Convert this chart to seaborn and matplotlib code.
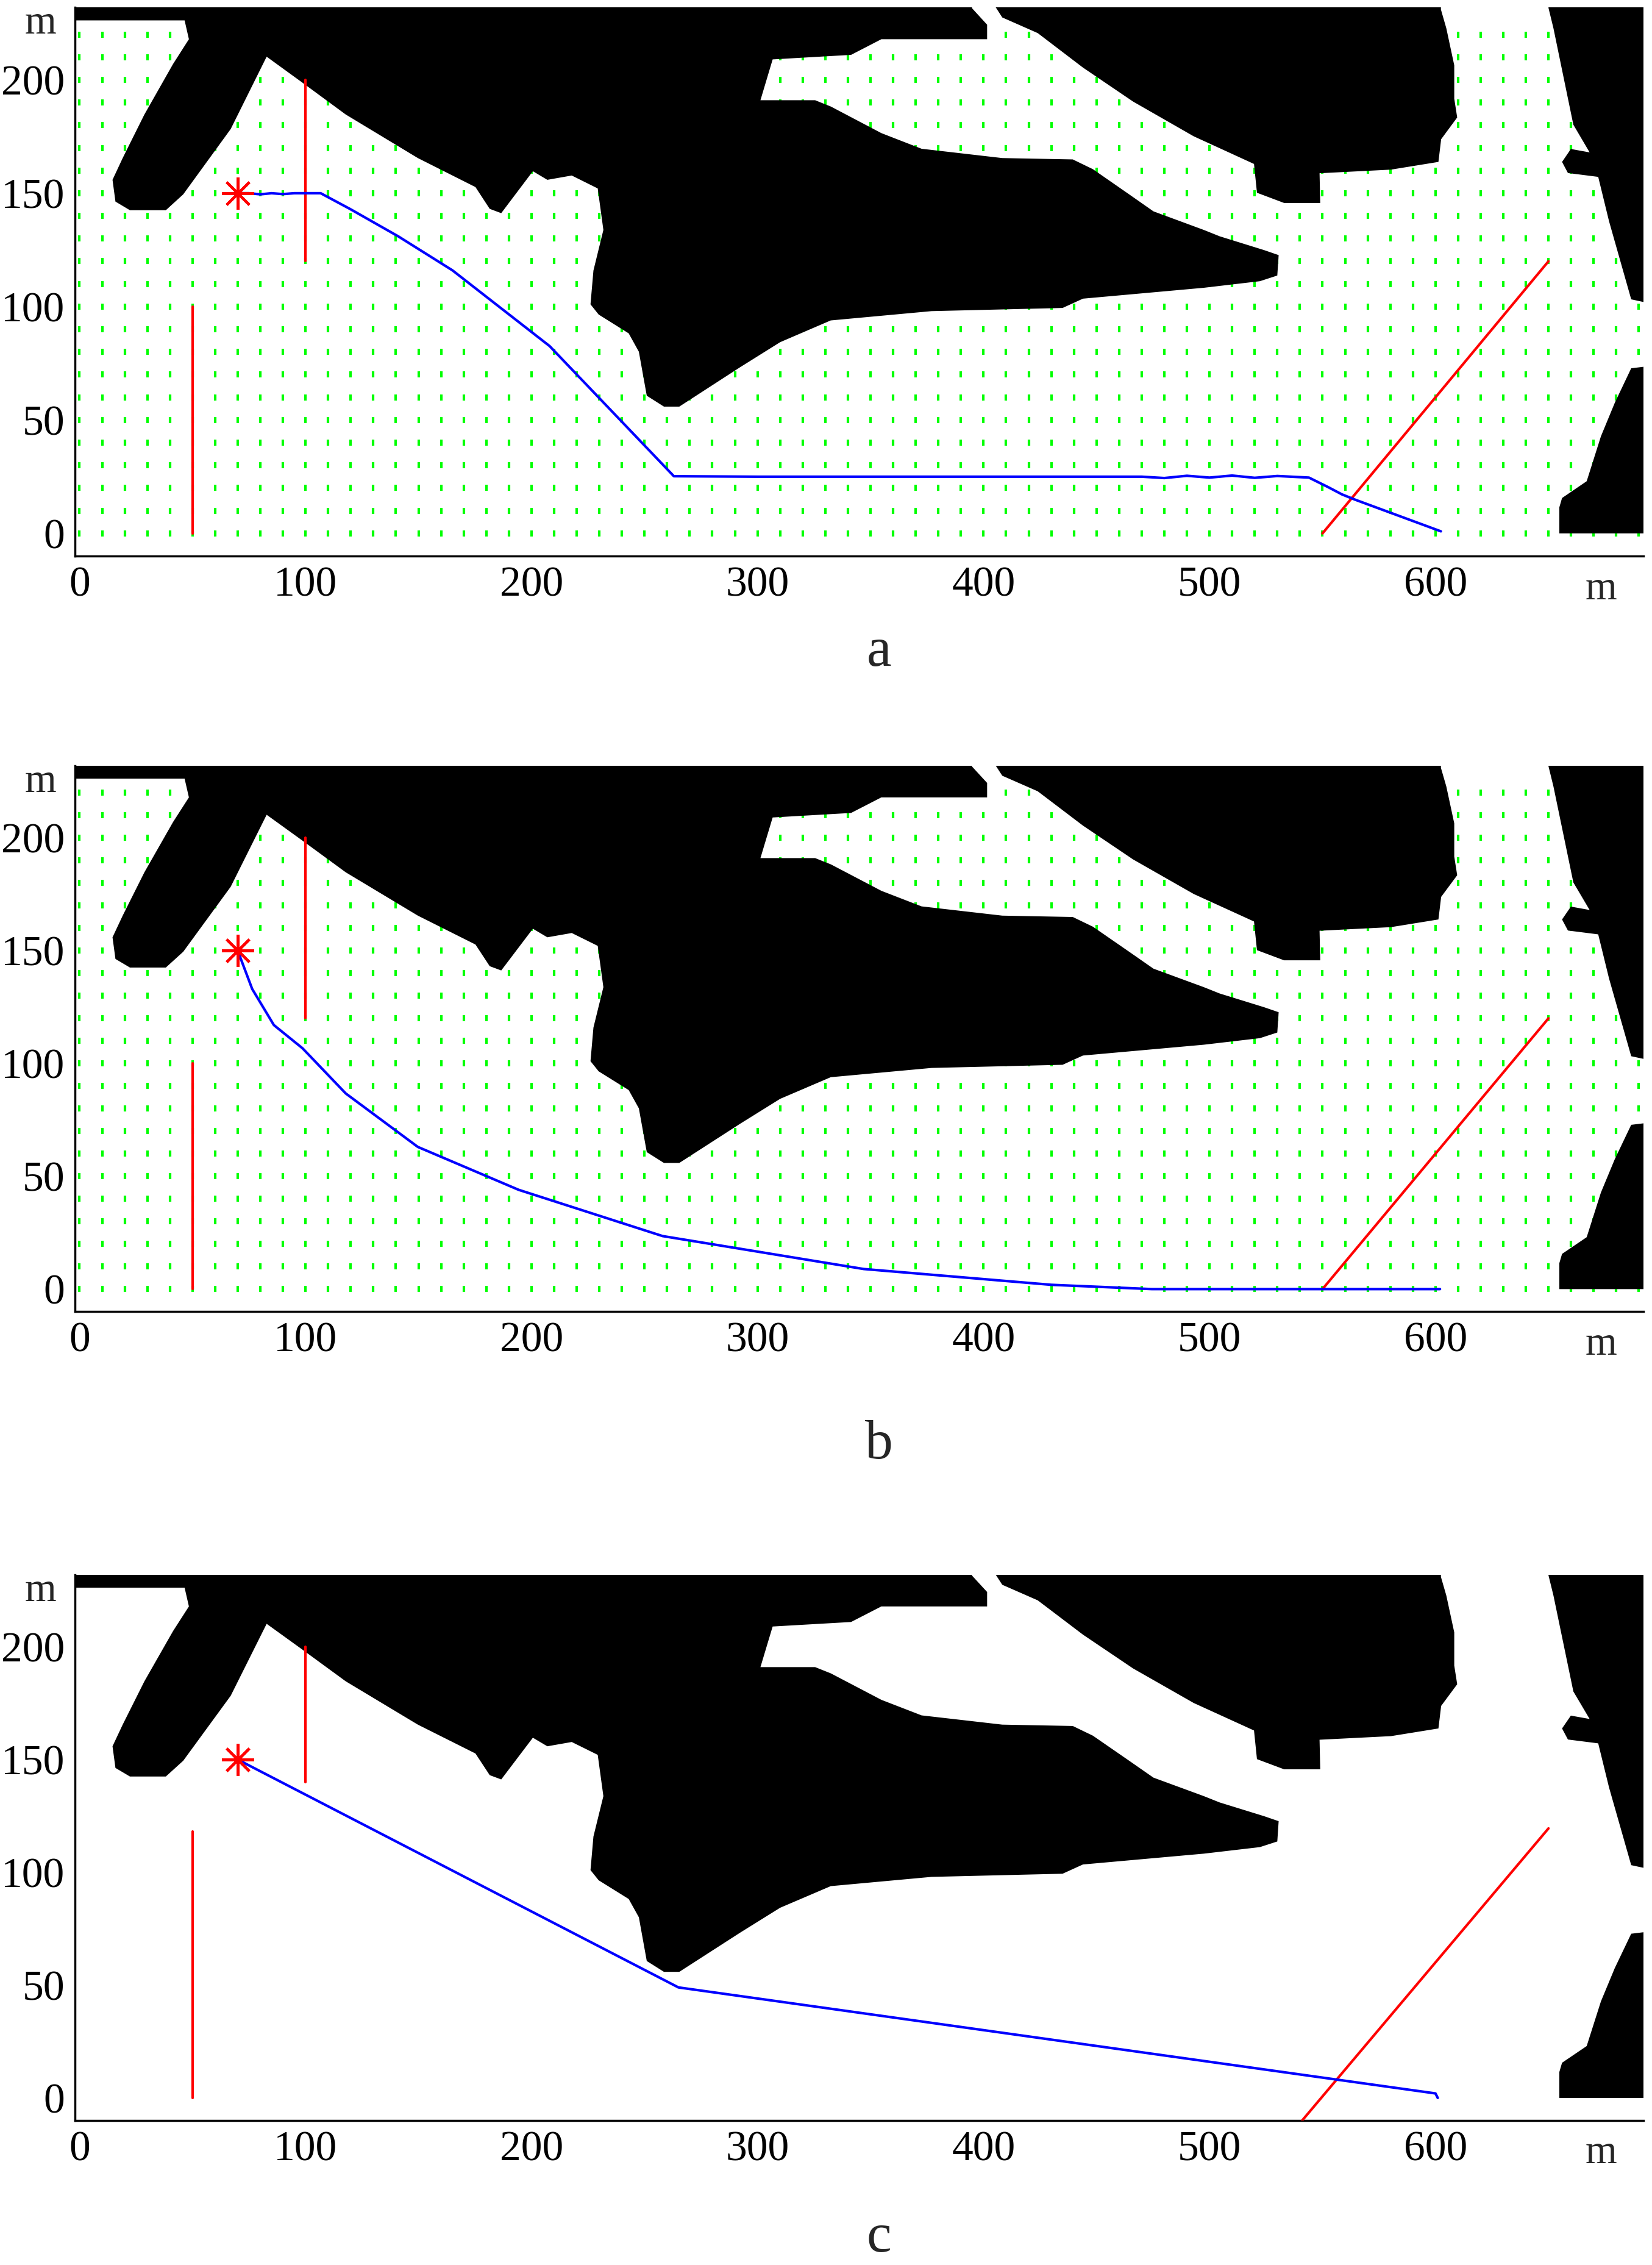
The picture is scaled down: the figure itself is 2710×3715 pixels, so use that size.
import numpy as np
import pandas as pd
import matplotlib
matplotlib.use("Agg")
import matplotlib.pyplot as plt
import seaborn as sns

# ==================================
# obstacle outlines (data units, metres)
# ==================================
obstacle_main = [
    (-9.6, 226.2), (46.5, 226.2), (48.4, 217.9), (41.4, 207), (28.7, 184.7), (19.1, 165.5),
    (14.6, 155.9), (15.9, 146.3), (22.3, 142.5), (38.2, 142.5), (45.9, 149.5), (66.9, 178.3),
    (82.8, 210.2), (98.7, 198.7), (117.8, 184.7), (149.7, 165.5), (175.2, 152.7), (181.5, 143.1),
    (186.6, 141.2), (200.6, 159.7), (207, 155.9), (217.8, 157.8), (229.3, 152.1), (231.8, 133.8),
    (227.4, 115.9), (226.1, 101), (229.7, 96.5), (243, 88.2), (247.5, 80.1), (251, 60.7),
    (258.6, 55.9), (265.4, 55.9), (292.2, 73.2), (310, 84.3), (332.4, 93.9), (377, 98),
    (435, 99.4), (444, 103.5), (497.5, 108.3), (522.3, 111.2), (530, 113.7), (530.6, 122.7),
    (524.2, 124.9), (504.5, 131), (497.5, 133.8), (475.2, 142), (464.3, 149.6), (448.4, 160.6),
    (439.5, 164.9), (408.3, 165.5), (372.6, 169.6), (354.8, 176.5), (332.5, 188.2), (325.5, 191),
    (301.3, 191), (306.7, 209), (341.4, 211), (354.8, 217.9), (401.6, 217.9), (401.6, 224.3),
    (394.9, 231.6), (394.9, 239), (-9.6, 239),
]
obstacle_hand = [
    (405, 239), (405, 232.6), (408.3, 227.5), (424, 220.6), (444, 205.4), (466.2, 190.4),
    (493, 175.1), (519.7, 162.9), (521, 150.2), (533, 145.7), (549, 145.7), (548.7, 158.8),
    (580.3, 160.4), (601.3, 163.8), (602.5, 173.8), (609.6, 183.4), (608.3, 191.7),
    (608.3, 206.4), (604.8, 222.7), (602.4, 231), (602.4, 239),
]
obstacle_right_top = [
    (650, 239), (650, 231.7), (652.2, 222.7), (661, 180.2), (668.2, 168), (659.9, 169.5),
    (656, 163.8), (658.6, 158.9), (672, 157.2), (676.8, 137.6), (686.6, 103.2), (694, 101.6),
    (704, 101.6), (704, 239),
]
obstacle_right_bottom = [
    (704, 73.7), (694, 73.7), (686.6, 72.8), (679.3, 57.5), (673.2, 42.8), (666.9, 23),
    (656, 15.6), (654.8, 11.5), (654.8, 0), (704, 0),
]
obstacles = [obstacle_main, obstacle_hand, obstacle_right_top, obstacle_right_bottom]

# start point
start_x, start_y = 70, 150

# red lines (walls / targets) per panel
wall_left_a = [(50, 0), (50, 100)]
wall_mid_a = [(100, 120), (100, 200)]
wall_diag_a = [(550, 0), (650, 120)]
wall_left_c = [(50, 0), (50, 118)]
wall_mid_c = [(100, 140), (100, 200)]
wall_diag_c = [(541, -10), (650, 119.5)]

# planned paths
path_a_x = [70, 75, 80, 85, 90, 95, 100, 106.7, 119.8, 141, 165, 208, 263, 300, 400, 470,
            480, 490, 500, 510, 520, 530, 544, 552.5, 558.6, 564.6, 602.4]
path_a_y = [150, 150, 149.5, 150, 149.6, 150, 150, 150, 143, 131, 116, 82.6, 25.2, 25, 25, 25,
            24.4, 25.4, 24.6, 25.5, 24.5, 25.3, 24.6, 20.4, 17.2, 14.8, 0.9]
path_b_x = [70, 76.4, 86, 98.7, 117.8, 149.7, 194.3, 258, 347, 430, 474.5, 602]
path_b_y = [150, 133, 117, 106.7, 86.7, 63, 44, 23.5, 8.9, 1.9, 0, 0]
path_c_x = [70, 265, 600, 601]
path_c_y = [150, 49, 2, 0]

# grid of sample points (every 10 m)
grid_x = np.arange(0, 700, 10)
grid_y = np.arange(0, 230, 10)

x_ticks = [0, 100, 200, 300, 400, 500, 600]
y_ticks = [0, 50, 100, 150, 200]

sns.set_theme(style="white")
plt.rcParams["font.family"] = ["Liberation Serif", "DejaVu Serif"]

fig = plt.figure(figsize=(27.1, 37.15), dpi=100)
axes_pos = [
    [0.0454, 0.7545, 0.9494, 0.2423],
    [0.0454, 0.4209, 0.9494, 0.2411],
    [0.0454, 0.0638, 0.9494, 0.2410],
]
panel_labels = ["a", "b", "c"]
label_y = [0.712, 0.362, 0.012]

gx, gy = np.meshgrid(grid_x, grid_y)
grid_df = pd.DataFrame({"x": gx.ravel(), "y": gy.ravel()})

panels = [
    (path_a_x, path_a_y, [wall_left_a, wall_mid_a, wall_diag_a], True),
    (path_b_x, path_b_y, [wall_left_a, wall_mid_a, wall_diag_a], True),
    (path_c_x, path_c_y, [wall_left_c, wall_mid_c, wall_diag_c], False),
]

for i, (px, py, walls, show_grid) in enumerate(panels):
    ax = fig.add_axes(axes_pos[i])
    if show_grid:
        sns.scatterplot(data=grid_df, x="x", y="y", marker="|", s=60, linewidth=3,
                        color="#00ff00", ax=ax, zorder=1, legend=False)
    for poly in obstacles:
        xs, ys = zip(*poly)
        ax.fill(xs, ys, color="black", lw=0, zorder=2)
    for w in walls:
        (x0, y0), (x1, y1) = w
        ax.plot([x0, x1], [y0, y1], color="red", lw=3, zorder=3)
    sns.lineplot(x=px, y=py, sort=False, estimator=None, color="blue", lw=3, ax=ax, zorder=4)
    ax.plot([start_x], [start_y], marker=(8, 2, 0), markersize=38, mew=3, color="red", zorder=5)

    ax.set_xlim(-2, 692)
    ax.set_ylim(-10, 232)
    ax.set_xticks(x_ticks)
    ax.set_yticks(y_ticks)
    ax.tick_params(direction="in", length=18, width=2.5, labelsize=50, pad=12, colors="black")
    for side in ["top", "right"]:
        ax.spines[side].set_visible(False)
    for side in ["left", "bottom"]:
        ax.spines[side].set_linewidth(2.5)
        ax.spines[side].set_color("black")
    ax.set_xlabel("")
    ax.set_ylabel("")
    ax.grid(False)
    ax.text(-0.022, 0.97, "m", transform=ax.transAxes, fontsize=48, ha="center", va="center")
    ax.text(0.973, -0.06, "m", transform=ax.transAxes, fontsize=48, ha="center", va="center")
    fig.text(0.532, label_y[i], panel_labels[i], fontsize=66, ha="center", va="center")

fig.savefig("out.png", dpi=100, facecolor="white")
